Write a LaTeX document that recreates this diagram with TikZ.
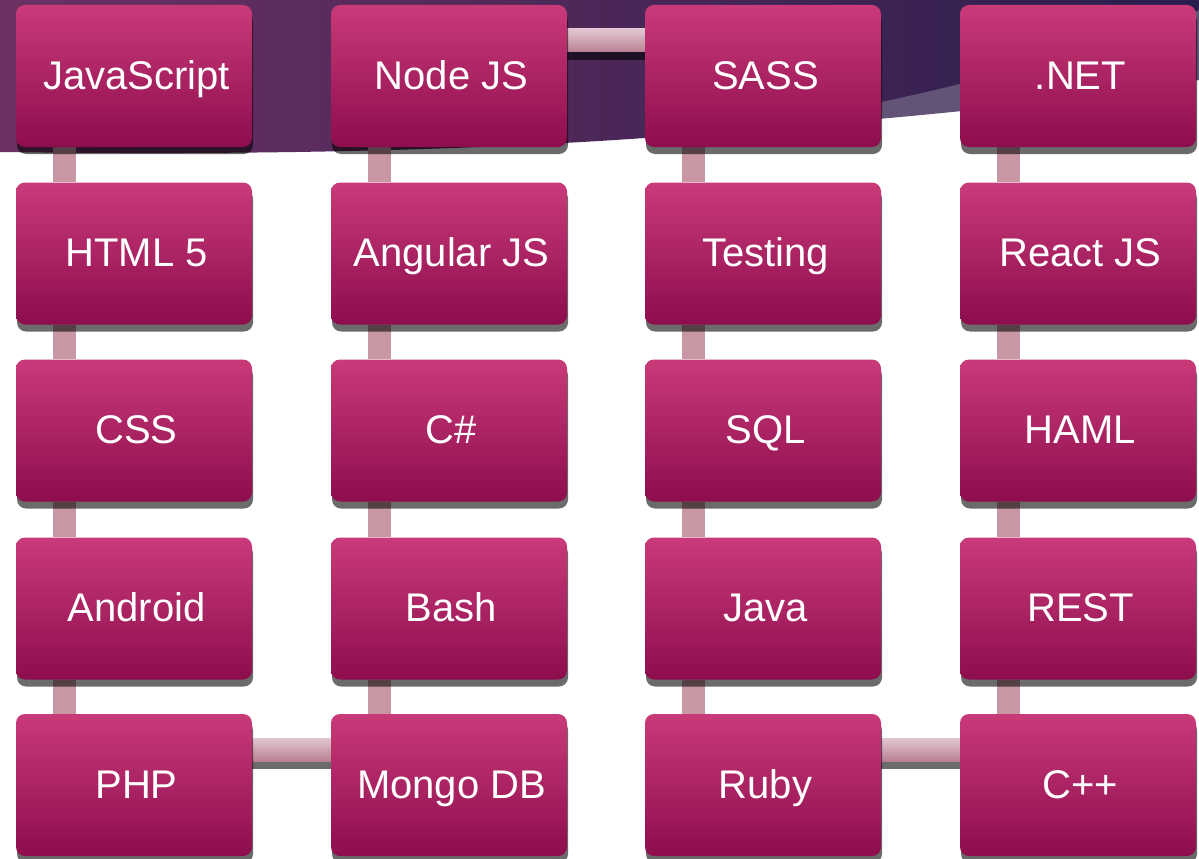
\documentclass[tikz,border=0pt]{standalone}
\usepackage{fontspec}
\setmainfont{Liberation Sans}
\usetikzlibrary{shadows}
\definecolor{boxtop}{RGB}{201,58,121}
\definecolor{boxbot}{RGB}{141,13,77}
\definecolor{vconncol}{RGB}{200,151,163}
\definecolor{hconntop}{RGB}{227,198,210}
\definecolor{hconnbot}{RGB}{184,128,146}
\definecolor{swleft}{RGB}{108,49,99}
\definecolor{swright}{RGB}{42,30,78}
\definecolor{swband}{RGB}{99,84,119}
\pgfdeclarelayer{bg}
\pgfdeclarelayer{conn}
\pgfsetlayers{bg,conn,main}
\begin{document}
\begin{tikzpicture}[x=1pt,y=-1pt,
  techbox/.style={rounded corners=9pt, minimum width=236pt, minimum height=142pt,
    inner sep=0pt, top color=boxtop, bottom color=boxbot, text=white,
    font=\fontsize{40}{48}\selectfont, text height=34pt, text depth=8pt,
    execute at begin node=\hspace*{5pt},
    drop shadow={shadow xshift=1pt, shadow yshift=-7pt, opacity=0.58, fill=black}},
  vconn/.style={fill=vconncol},
  hconn/.style={top color=hconntop, bottom color=hconnbot},
  hshadow/.style={fill=black, opacity=0.58}]
\useasboundingbox (0,0) rectangle (1199,859);
\clip (0,0) rectangle (1199,859);
\begin{pgfonlayer}{bg}
  \fill[white] (0,0) rectangle (1199,859);
  \fill[swband] (645,0) -- (645,138) .. controls (800,125) and (1000,113) .. (1199,80) -- (1199,0) -- cycle;
  \shade[left color=swleft, right color=swright]
    (0,0) -- (0,152) .. controls (300,156) and (500,148) .. (645,138)
    .. controls (800,127) and (1050,70) .. (1199,10) -- (1199,0) -- cycle;
\end{pgfonlayer}

% column 1
\node[techbox] (js)   at (134,76)    {JavaScript};
\node[techbox] (html) at (134,253.5) {HTML 5};
\node[techbox] (css)  at (134,430.5) {CSS};
\node[techbox] (andr) at (134,608.5) {Android};
\node[techbox] (php)  at (134,785)   {PHP};
% column 2
\node[techbox] (node) at (449,76)    {Node JS};
\node[techbox] (ang)  at (449,253.5) {Angular JS};
\node[techbox] (cs)   at (449,430.5) {C\#};
\node[techbox] (bash) at (449,608.5) {Bash};
\node[techbox] (mongo) at (449,785)  {Mongo DB};
% column 3
\node[techbox] (sass) at (763,76)    {SASS};
\node[techbox] (test) at (763,253.5) {Testing};
\node[techbox] (sql)  at (763,430.5) {SQL};
\node[techbox] (java) at (763,608.5) {Java};
\node[techbox] (ruby) at (763,785)   {Ruby};
% column 4
\node[techbox] (net)  at (1078,76)    {.NET};
\node[techbox] (react) at (1078,253.5) {React JS};
\node[techbox] (haml) at (1078,430.5) {HAML};
\node[techbox] (rest) at (1078,608.5) {REST};
\node[techbox] (cpp)  at (1078,785)   {C++};

\begin{pgfonlayer}{conn}
  \foreach \a/\b in {js/html, html/css, css/andr, andr/php,
                     node/ang, ang/cs, cs/bash, bash/mongo,
                     sass/test, test/sql, sql/java, java/ruby,
                     net/react, react/haml, haml/rest, rest/cpp}
    \fill[vconn] ([xshift=37pt]\a.south west) rectangle ([xshift=60pt]\b.north west);
  \foreach \a/\b in {php/mongo, node/sass, ruby/cpp}{
    \fill[hshadow] ([yshift=16pt]\a.east) rectangle ([yshift=39pt]\b.west);
    \shade[hconn] ([yshift=24pt]\a.east) rectangle ([yshift=47pt]\b.west);
  }
\end{pgfonlayer}
\end{tikzpicture}
\end{document}
